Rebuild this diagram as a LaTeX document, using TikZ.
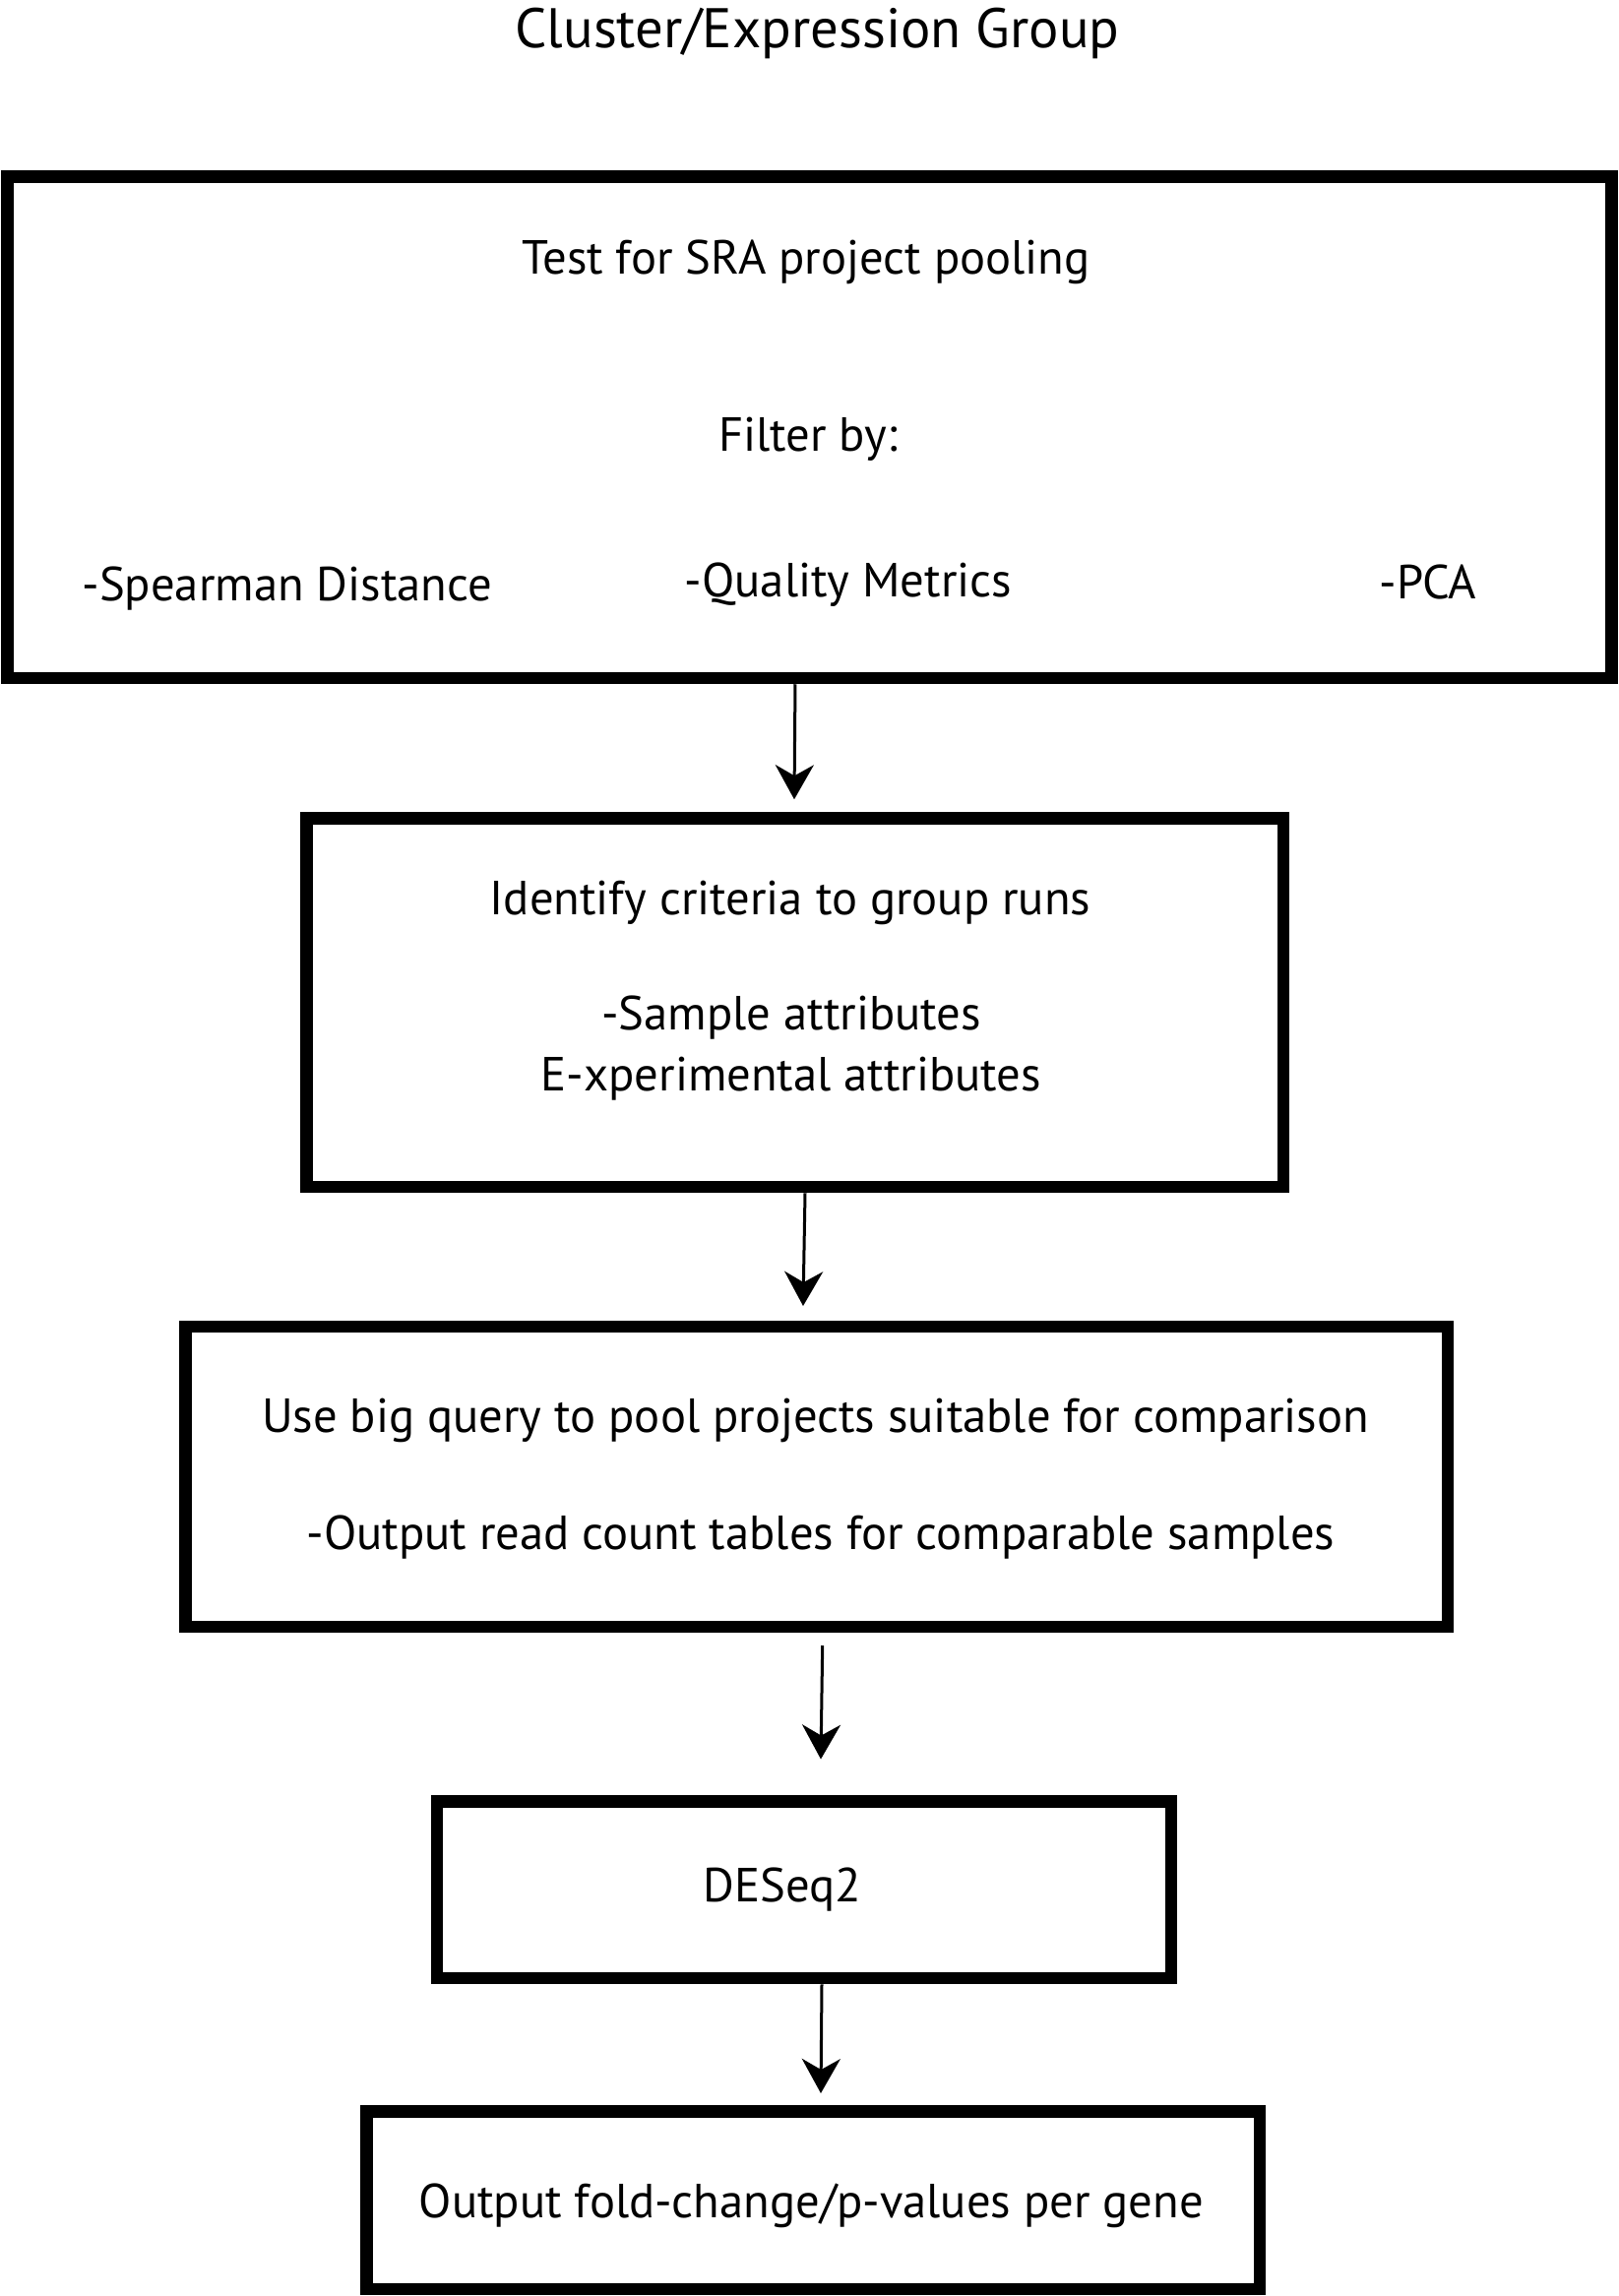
\documentclass[tikz,border=0pt]{standalone}
\usepackage{fontspec}
\setmainfont{PT Sans}
\usetikzlibrary{arrows.meta}
\newlength\refw
\newlength\titw
\begin{document}
\settowidth\refw{\fontsize{10pt}{12pt}\selectfont Use big query to pool projects suitable for comparison}%
\settowidth\titw{\fontsize{10pt}{12pt}\selectfont Cluster/Expression Group}%
\pgfmathsetmacro\fs{10*1125/\refw}%
\pgfmathsetmacro\fsb{1.2*\fs}%
\pgfmathsetmacro\fst{10*614/\titw}%
\pgfmathsetmacro\fstb{1.2*\fst}%
\begin{tikzpicture}[x=1pt,y=-1pt]
\tikzset{
  boxstyle/.style={draw=black, line width=12.5pt, inner sep=0pt},
  txt/.style={inner sep=0pt, anchor=base, font=\fontsize{\fs pt}{\fsb pt}\selectfont},
  titletxt/.style={inner sep=0pt, anchor=base, font=\fontsize{\fst pt}{\fstb pt}\selectfont},
  arr/.style={draw=black, line width=3pt, -{Stealth[length=35pt, width=39pt, inset=11pt]}}
}
\useasboundingbox[fill=white] (0,0) rectangle (1644,2333);

% boxes
\node[boxstyle, minimum width=1630.25pt, minimum height=509.5pt] (b1) at (822.375,434.25) {};
\node[boxstyle, minimum width=992.5pt, minimum height=374.5pt] (b2) at (807.75,1018.75) {};
\node[boxstyle, minimum width=1282.5pt, minimum height=305pt] (b3) at (829.75,1500.5) {};
\node[boxstyle, minimum width=746pt, minimum height=179.4pt] (b4) at (817,1920.3) {};
\node[boxstyle, minimum width=907.4pt, minimum height=180.5pt] (b5) at (826.3,2235.75) {};

% texts
\node[titletxt] (title) at (830.5,49) {Cluster/Expression Group};
\node[txt] (t1a) at (819,278) {Test for SRA project pooling};
\node[txt] (t1b) at (821,458) {Filter by:};
\node[txt] (t1c) at (291.8,610) {-Spearman Distance};
\node[txt] (t1d) at (862,606) {-Quality Metrics};
\node[txt] (t1e) at (1451,608) {-PCA};
\node[txt] (t2a) at (803,929) {Identify criteria to group runs};
\node[txt] (t2b) at (804,1046.7) {-Sample attributes};
\node[txt] (t2c) at (804,1108) {E-xperimental attributes};
\node[txt] (t3a) at (828.5,1455) {Use big query to pool projects suitable for comparison};
\node[txt] (t3b) at (834,1574) {-Output read count tables for comparable samples};
\node[txt] (t4) at (795,1932) {DESeq2};
\node[txt] (t5) at (824.5,2253) {Output fold-change/p-values per gene};

% arrows
\draw[arr] ([xshift=-14.4pt]b1.south) -- ([xshift=-0.75pt,yshift=13pt]b2.north);
\draw[arr] ([xshift=10.25pt]b2.south) -- ([xshift=-13.75pt,yshift=14.75pt]b3.north);
\draw[arr] ([xshift=5.95pt,yshift=-12.75pt]b3.south) -- ([xshift=17pt,yshift=36.85pt]b4.north);
\draw[arr] ([xshift=18pt]b4.south) -- ([xshift=7.7pt,yshift=12.25pt]b5.north);
\end{tikzpicture}
\end{document}
